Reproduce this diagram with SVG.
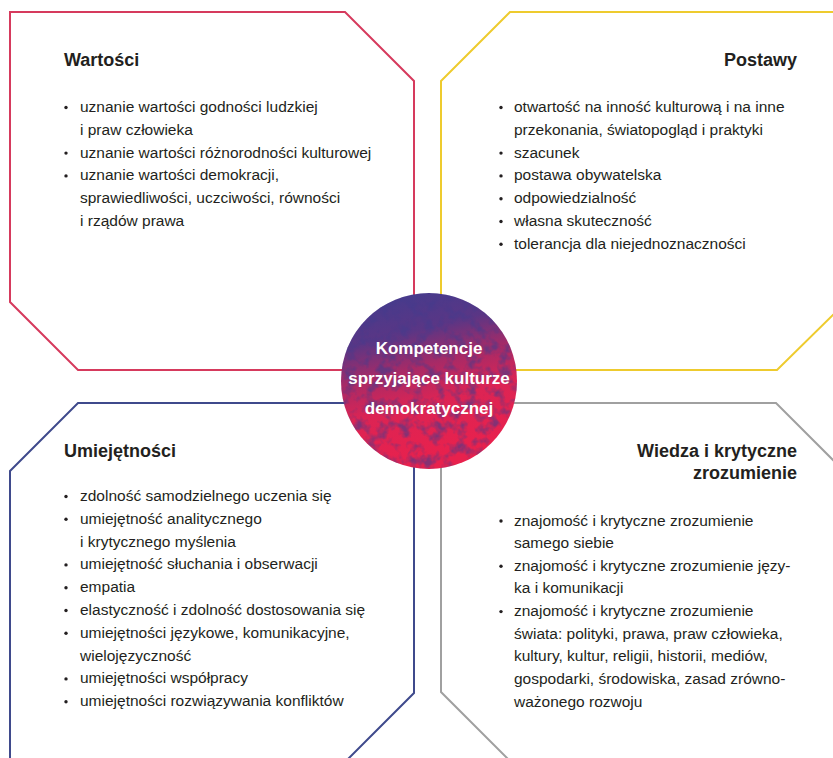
<svg xmlns="http://www.w3.org/2000/svg" width="833" height="758" viewBox="0 0 833 758">
<defs>
<style>
.frame{fill:none;stroke-width:2;stroke-linejoin:miter}
.t{font-family:"Liberation Sans",Arial,sans-serif;font-size:15.5px;fill:#231f20}
.h{font-family:"Liberation Sans",Arial,sans-serif;font-size:18px;font-weight:bold;fill:#231f20}
.c{font-family:"Liberation Sans",Arial,sans-serif;font-size:17px;font-weight:bold;fill:#ffffff;text-anchor:middle}
.b{fill:#231f20}
.r{text-anchor:end}
</style>
<linearGradient id="cg" x1="0" y1="0" x2="0.25" y2="1">
<stop offset="0" stop-color="#3f3d8f"/>
<stop offset="0.3" stop-color="#5a3685"/>
<stop offset="0.5" stop-color="#a82a66"/>
<stop offset="0.7" stop-color="#dc2454"/>
<stop offset="1" stop-color="#e8214d"/>
</linearGradient>
<filter id="grain" x="0" y="0" width="100%" height="100%" color-interpolation-filters="sRGB">
<feTurbulence type="fractalNoise" baseFrequency="0.09" numOctaves="3" seed="7" result="n"/>
<feColorMatrix in="n" type="matrix" values="0 0 0 0 0.27  0 0 0 0 0.23  0 0 0 0 0.55  3.2 0 0 0 -1.45" result="m"/>
<feComposite in="m" in2="SourceGraphic" operator="in"/>
</filter>
</defs>
<rect width="833" height="758" fill="#ffffff"/>

<g id="wartosci">
<polygon class="frame" stroke="#d63a5d" points="10,12 345,12 414,81 414,370 78,370 10,302"/>
<text class="h" x="64" y="66">Wartości</text>
<circle class="b" cx="66" cy="107.5" r="1.7"/>
<circle class="b" cx="66" cy="153.1" r="1.7"/>
<circle class="b" cx="66" cy="175.9" r="1.7"/>
<text class="t" x="80" y="112">uznanie wartości godności ludzkiej</text>
<text class="t" x="80" y="134.8">i praw człowieka</text>
<text class="t" x="80" y="157.6">uznanie wartości różnorodności kulturowej</text>
<text class="t" x="80" y="180.4">uznanie wartości demokracji,</text>
<text class="t" x="80" y="203.2">sprawiedliwości, uczciwości, równości</text>
<text class="t" x="80" y="226">i rządów prawa</text>
</g>

<g id="postawy">
<polygon class="frame" stroke="#eecb2e" points="441,81 510,12 846,12 846,302 777,370 441,370"/>
<text class="h r" x="797" y="66">Postawy</text>
<circle class="b" cx="501" cy="107.5" r="1.7"/>
<circle class="b" cx="501" cy="153.1" r="1.7"/>
<circle class="b" cx="501" cy="175.9" r="1.7"/>
<circle class="b" cx="501" cy="198.7" r="1.7"/>
<circle class="b" cx="501" cy="221.5" r="1.7"/>
<circle class="b" cx="501" cy="244.3" r="1.7"/>
<text class="t" x="514" y="112">otwartość na inność kulturową i na inne</text>
<text class="t" x="514" y="134.8">przekonania, światopogląd i praktyki</text>
<text class="t" x="514" y="157.6">szacunek</text>
<text class="t" x="514" y="180.4">postawa obywatelska</text>
<text class="t" x="514" y="203.2">odpowiedzialność</text>
<text class="t" x="514" y="226">własna skuteczność</text>
<text class="t" x="514" y="248.8">tolerancja dla niejednoznaczności</text>
</g>

<g id="umiejetnosci">
<polygon class="frame" stroke="#3f4a8c" points="10,471 78,403 414,403 414,693 346,761 10,761"/>
<text class="h" x="64" y="457">Umiejętności</text>
<circle class="b" cx="66" cy="496.5" r="1.7"/>
<circle class="b" cx="66" cy="519.3" r="1.7"/>
<circle class="b" cx="66" cy="564.9" r="1.7"/>
<circle class="b" cx="66" cy="587.7" r="1.7"/>
<circle class="b" cx="66" cy="610.5" r="1.7"/>
<circle class="b" cx="66" cy="633.3" r="1.7"/>
<circle class="b" cx="66" cy="678.9" r="1.7"/>
<circle class="b" cx="66" cy="701.7" r="1.7"/>
<text class="t" x="80" y="501">zdolność samodzielnego uczenia się</text>
<text class="t" x="80" y="523.8">umiejętność analitycznego</text>
<text class="t" x="80" y="546.6">i krytycznego myślenia</text>
<text class="t" x="80" y="569.4">umiejętność słuchania i obserwacji</text>
<text class="t" x="80" y="592.2">empatia</text>
<text class="t" x="80" y="615">elastyczność i zdolność dostosowania się</text>
<text class="t" x="80" y="637.8">umiejętności językowe, komunikacyjne,</text>
<text class="t" x="80" y="660.6">wielojęzyczność</text>
<text class="t" x="80" y="683.4">umiejętności współpracy</text>
<text class="t" x="80" y="706.2">umiejętności rozwiązywania konfliktów</text>
</g>

<g id="wiedza">
<polygon class="frame" stroke="#a0a0a0" points="441,403 776,403 846,473 846,761 510,761 441,692"/>
<text class="h r" x="797" y="457">Wiedza i krytyczne</text>
<text class="h r" x="797" y="479">zrozumienie</text>
<circle class="b" cx="501" cy="521" r="1.7"/>
<circle class="b" cx="501" cy="566.3" r="1.7"/>
<circle class="b" cx="501" cy="611.6" r="1.7"/>
<text class="t" x="514" y="525.5">znajomość i krytyczne zrozumienie</text>
<text class="t" x="514" y="548.15">samego siebie</text>
<text class="t" x="514" y="570.8">znajomość i krytyczne zrozumienie języ-</text>
<text class="t" x="514" y="593.45">ka i komunikacji</text>
<text class="t" x="514" y="616.1">znajomość i krytyczne zrozumienie</text>
<text class="t" x="514" y="638.75">świata: polityki, prawa, praw człowieka,</text>
<text class="t" x="514" y="661.4">kultury, kultur, religii, historii, mediów,</text>
<text class="t" x="514" y="684.05">gospodarki, środowiska, zasad zrówno-</text>
<text class="t" x="514" y="706.7">ważonego rozwoju</text>
</g>

<g id="connectors"/>

<g id="center">
<circle cx="429" cy="381" r="88" fill="url(#cg)"/>
<circle cx="429" cy="381" r="88" fill="#000" filter="url(#grain)" opacity="0.6"/>
<text class="c" x="429" y="354">Kompetencje</text>
<text class="c" x="429" y="384">sprzyjające kulturze</text>
<text class="c" x="429" y="414">demokratycznej</text>
</g>
</svg>
